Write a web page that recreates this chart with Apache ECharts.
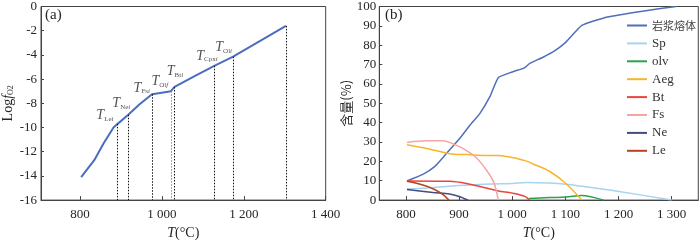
<!DOCTYPE html>
<html><head><meta charset="utf-8">
<script src="https://cdn.jsdelivr.net/npm/echarts@6/dist/echarts.min.js"></script>
<style>html,body{margin:0;padding:0;background:#fff}#c{width:700px;height:245px}</style>
</head><body><div id="c"></div>
<script>
// ---- panel (a): log fO2 vs T ----
const fo2T = [803, 835, 858, 882, 892, 918, 945, 976, 1000, 1022, 1031, 1080, 1128, 1174, 1240, 1303];
const fo2V = [-14.1, -12.7, -11.3, -10.0, -9.7, -8.95, -8.1, -7.25, -7.12, -7.0, -6.65, -5.75, -4.9, -4.15, -2.85, -1.6];
const markT = [892, 918, 976, 1022, 1031, 1128, 1174, 1303];
const markTop = [-9.7, -8.95, -7.25, -7.0, -6.65, -4.9, -4.15, -1.6];
const annoSub = [['Le', 'i'], ['Ne', 'i'], ['Fs', 'i'], ['Ol', 'f'], ['Bt', 'i'], ['Cpx', 'i'], ['Ol', 'i']];
const annoT = [861, 901, 951, 995, 1032, 1110, 1151];
const annoV = [-9.01, -8.03, -6.74, -6.21, -5.38, -4.09, -3.41];
const leftXTicks = [800, 1000, 1200, 1400];
const rightXTicks = [800, 900, 1000, 1100, 1200, 1300];

// ---- panel (b): phase contents (%) vs T ----
const phaseNames = ['岩浆熔体', 'Sp', 'olv', 'Aeg', 'Bt', 'Fs', 'Ne', 'Le'];
const melt = [[802,9.9],[832,13.3],[854,17.3],[870,22],[882,25.9],[900,31.4],[920,38.5],[939,44.7],[958,53.4],[974,63.3],[1000,66.2],[1023,68.3],[1033,70.6],[1058,73.8],[1079,76.9],[1101,81.6],[1131,90.2],[1179,94.6],[1245,97.6],[1308,100]];
const sp = [[802,5.8],[839,6.3],[900,7.5],[957,8.3],[1000,8.6],[1026,9.1],[1070,8.8],[1101,8.2],[1132,7.1],[1195,4.7],[1300,0]];
const olv = [[1031,0.8],[1070,1.3],[1101,1.6],[1131,2.4],[1172,0]];
const aeg = [[802,28.6],[839,26.7],[882,24],[914,23.5],[945,23.1],[976,23.1],[1000,22],[1024,20.4],[1045,18],[1070,14.9],[1101,8.6],[1131,0]];
const bt = [[802,9.9],[882,9.7],[914,8.6],[945,6.6],[974,4.7],[1000,3.6],[1024,1.9],[1032,0]];
const fs = [[802,29.8],[839,30.6],[870,30.6],[882,29.8],[907,26.7],[932,22],[951,15.7],[965,9.4],[974,0]];
const ne = [[802,5.5],[851,3.9],[882,3.1],[900,1.9],[917,0]];
const le = [[802,9.7],[832,7.8],[854,5.5],[870,2.8],[881,0]];
const phaseData = [melt, sp, olv, aeg, bt, fs, ne, le];
const phaseColors = ['#4f6fb9', '#a6d4ef', '#2ba24c', '#f7b52c', '#e8463d', '#f6a5a5', '#414c80', '#b8441f'];

const SERIF = 'Liberation Serif, Times New Roman, serif';
const TXT = '#262626';
const AX = '#444';
const fmtNum = v => { const s = String(v); return s.length === 4 ? s[0] + ' ' + s.slice(1) : s; };

const chart = echarts.init(document.getElementById('c'), null, { renderer: 'canvas' });

const xBase = (gi, min, max, ticks, name) => ({
  type: 'value', gridIndex: gi, min, max,
  name, nameLocation: 'middle', nameGap: 17,
  nameTextStyle: { fontFamily: SERIF, fontSize: 14, color: TXT, rich: {
    i: { fontFamily: SERIF, fontSize: 14, fontStyle: 'italic', color: TXT },
    n: { fontFamily: SERIF, fontSize: 14, color: TXT } } },
  axisLine: { show: true, onZero: false, lineStyle: { color: AX, width: 1 } },
  axisTick: { show: true, inside: true, length: 4, customValues: ticks, lineStyle: { color: AX } },
  axisLabel: { customValues: ticks, formatter: fmtNum, fontFamily: SERIF, fontSize: 13, color: TXT, margin: 8 },
  splitLine: { show: false }
});

const option = {
  animation: false,
  backgroundColor: '#fff',
  grid: [
    { left: 39.3, top: 2, width: 286.4, height: 211.3, show: true, borderColor: AX, borderWidth: 1 },
    { left: 379.3, top: 1, width: 319, height: 212, show: true, borderColor: AX, borderWidth: 1 }
  ],
  xAxis: [
    xBase(0, 705, 1400, leftXTicks, '{i|T}{n|(°C)}'),
    xBase(1, 750, 1350, rightXTicks, '{i|T}{n|(°C)}')
  ],
  yAxis: [
    { type: 'value', gridIndex: 0, min: -16, max: 0, interval: 2,
      name: '{a|Log}{b|f}{c|O2}', nameLocation: 'middle', nameGap: 26, nameRotate: 90,
      nameTextStyle: { rich: {
        a: { fontFamily: SERIF, fontSize: 14, color: TXT },
        b: { fontFamily: SERIF, fontSize: 14, fontStyle: 'italic', color: TXT },
        c: { fontFamily: SERIF, fontSize: 8, color: TXT, verticalAlign: 'bottom' } } },
      axisLine: { show: true, onZero: false, lineStyle: { color: AX } },
      axisTick: { show: true, inside: true, length: 3, lineStyle: { color: AX } },
      axisLabel: { fontFamily: SERIF, fontSize: 13, color: TXT, margin: 4 },
      splitLine: { show: false } },
    { type: 'value', gridIndex: 1, min: 0, max: 100, interval: 10,
      name: '含量(%)', nameLocation: 'middle', nameGap: 27, nameRotate: 90,
      nameTextStyle: { fontFamily: 'Noto Sans CJK SC', fontSize: 13, color: TXT },
      axisLine: { show: true, onZero: false, lineStyle: { color: AX } },
      axisTick: { show: true, inside: true, length: 3, lineStyle: { color: AX } },
      axisLabel: { fontFamily: SERIF, fontSize: 13, color: TXT, margin: 3 },
      splitLine: { show: false } }
  ],
  legend: {
    data: phaseNames.map(n => ({ name: n, icon: 'rect' })),
    orient: 'vertical', left: 627, top: 19, padding: 0,
    itemWidth: 20, itemHeight: 2, itemGap: 4.9,
    formatter: n => n === '岩浆熔体' ? '{c|' + n + '}' : n,
    textStyle: { fontFamily: SERIF, fontSize: 13, lineHeight: 13, color: '#333',
      rich: { c: { fontFamily: 'Noto Sans CJK SC', fontSize: 11, lineHeight: 13, color: '#444' } } },
    selectedMode: false
  },
  graphic: [
    { type: 'text', left: 45, top: 8, style: { text: '(a)', font: '15px ' + SERIF, fill: TXT } },
    { type: 'text', left: 385, top: 8, style: { text: '(b)', font: '15px ' + SERIF, fill: TXT } }
  ],
  series: [
    { type: 'line', xAxisIndex: 0, yAxisIndex: 0, symbol: 'none', silent: true,
      data: fo2T.map((t, i) => [t, fo2V[i]]),
      lineStyle: { color: '#4a6dbd', width: 2 },
      markLine: { silent: true, symbol: 'none', label: { show: false },
        data: markT.map((t, i) => [
          { coord: [t, markTop[i]], lineStyle: { color: t === 1022 ? '#888' : '#111', width: 1, type: [1.5, 1.5] } },
          { coord: [t, -16] }]) } },
    { type: 'scatter', xAxisIndex: 0, yAxisIndex: 0, symbolSize: 0, silent: true,
      data: annoT.map((t, i) => [t, annoV[i], i]),
      label: { show: true, position: [0, 0], align: 'center', verticalAlign: 'middle',
        formatter: p => '{t|T}{s|' + annoSub[p.value[2]][0] + '}{si|' + annoSub[p.value[2]][1] + '}',
        rich: {
          t: { fontFamily: SERIF, fontStyle: 'italic', fontSize: 14, color: TXT },
          s: { fontFamily: SERIF, fontSize: 7, color: TXT, verticalAlign: 'bottom' },
          si: { fontFamily: SERIF, fontSize: 7, fontStyle: 'italic', color: TXT, verticalAlign: 'bottom' } } } },
    ...phaseNames.map((n, k) => ({
      name: n, type: 'line', xAxisIndex: 1, yAxisIndex: 1, symbol: 'none',
      smooth: k === 0 ? 0.15 : 0.3,
      data: phaseData[k], color: phaseColors[k],
      lineStyle: { color: phaseColors[k], width: 1.5 }
    }))
  ]
};
chart.setOption(option);
</script></body></html>
